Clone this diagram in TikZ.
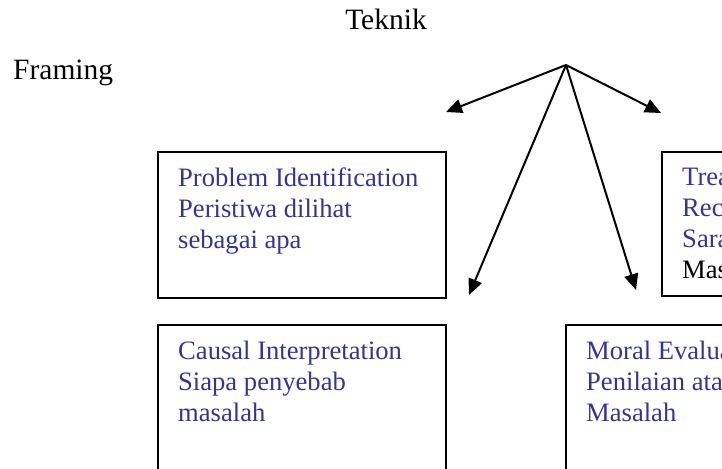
\documentclass[tikz,border=0pt]{standalone}
\usepackage{fontspec}
\setmainfont{Liberation Serif}
\usetikzlibrary{arrows.meta}
\definecolor{framblue}{RGB}{51,51,153}

\tikzset{
  box/.style={draw, line width=1.5pt, anchor=north west, inner sep=0pt},
  boxtext/.style={anchor=north west, align=left, inner sep=0pt, text=framblue, font=\fontsize{26.6}{31}\selectfont},
  title/.style={inner sep=0pt, font=\fontsize{29.5}{34}\selectfont},
  arr/.style={-{Triangle[length=16pt,width=14pt]}, line width=2pt}
}

\begin{document}
\begin{tikzpicture}[x=1pt,y=-1pt]
\useasboundingbox (0,0) rectangle (722,468);
\clip (0,0) rectangle (722,468);

\node[title, anchor=base] (teknik) at (386,30) {Teknik};
\node[title, anchor=base west] (framing) at (13,80) {Framing};

% boxes
\node[box, minimum width=288, minimum height=146] (problem) at (157,151) {};
\node[box, minimum width=288, minimum height=200] (causal) at (157,324) {};
\node[box, minimum width=200, minimum height=144] (treatment) at (661,151) {};
\node[box, minimum width=200, minimum height=200] (moral) at (565,324) {};

\node[boxtext] (problemtxt) at ([shift={(21,16.5)}]problem.north west) {Problem Identification\\Peristiwa dilihat\\sebagai apa};
\node[boxtext] (causaltxt) at ([shift={(21,16.5)}]causal.north west) {Causal Interpretation\\Siapa penyebab\\masalah};
\node[boxtext] (treatmenttxt) at ([shift={(21,16.5)}]treatment.north west) {Trea\\Rec\\Sara\\{\color{black}Mas}};
\node[boxtext] (moraltxt) at ([shift={(21,16.5)}]moral.north west) {Moral Evalua\\Penilaian ata\\Masalah};

% arrows from the apex
\coordinate (apex) at (566,65);
\coordinate (tipL) at (446,112);
\coordinate (tipR) at (661,113);
\coordinate (tipDL) at (469,295);
\coordinate (tipDR) at (636,290);
\draw[arr] (apex) -- (tipL);
\draw[arr] (apex) -- (tipR);
\draw[arr] (apex) -- (tipDL);
\draw[arr] (apex) -- (tipDR);
\end{tikzpicture}
\end{document}
